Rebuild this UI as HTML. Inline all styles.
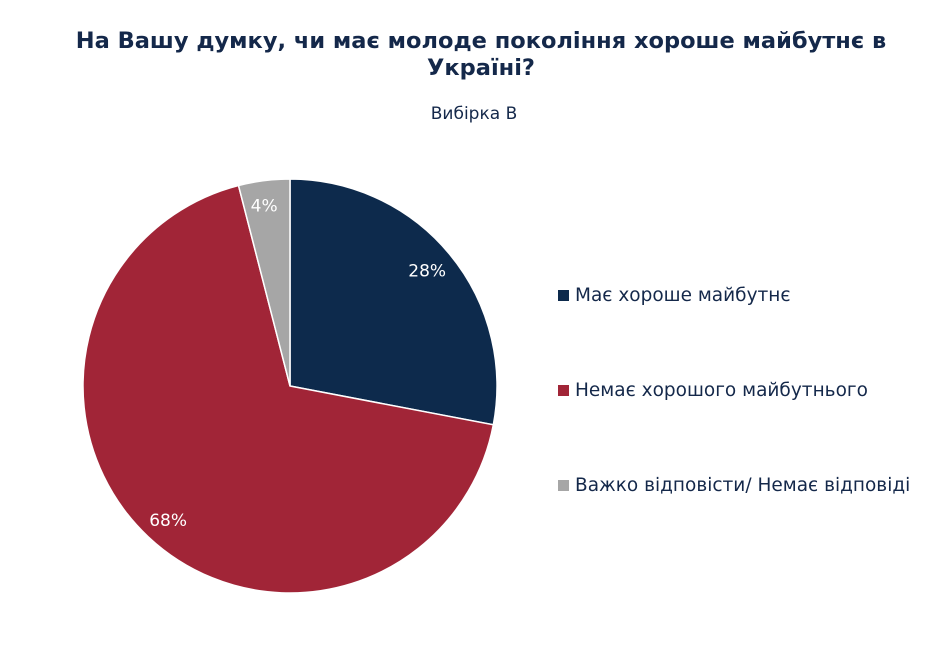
<!DOCTYPE html>
<html><head><meta charset="utf-8">
<style>
body{margin:0;background:#fff;width:948px;height:672px;overflow:hidden;font-family:"DejaVu Sans","Liberation Sans",sans-serif;}
.title{position:absolute;left:0;top:28px;width:962px;text-align:center;font-weight:bold;font-size:22.5px;line-height:27px;color:#14284a;}
.sub{position:absolute;left:0;top:104px;width:948px;text-align:center;font-size:17px;color:#14284a;}
.leg{position:absolute;left:558px;font-size:18.5px;color:#14284a;white-space:nowrap;}
.leg span.sw{display:inline-block;width:11px;height:11px;margin-right:6px;vertical-align:0px;}
</style></head><body>
<div class="title">На Вашу думку, чи має молоде покоління хороше майбутнє в<br>Україні?</div>
<div class="sub">Вибірка В</div>
<svg id="pie" width="948" height="672" style="position:absolute;left:0;top:0"></svg>
<div id="legend"></div>
<script>
const categories=["Має хороше майбутнє","Немає хорошого майбутнього","Важко відповісти/ Немає відповіді"];
const values=[28,68,4];
const labels=["28%","68%","4%"];
const colors=["#0d2a4c","#a12537","#a6a6a6"];
const svg=document.getElementById('pie');
const NS="http://www.w3.org/2000/svg";
const cx=290,cy=386,r=207;
const total=values.reduce((a,b)=>a+b,0);
let acc=0;
function pt(frac,rad){const a=frac*2*Math.PI;return [cx+rad*Math.sin(a),cy-rad*Math.cos(a)];}
values.forEach((v,i)=>{
  const s=acc/total,e=(acc+v)/total;acc+=v;
  const p0=pt(s,r),p1=pt(e,r);
  const large=(e-s)>0.5?1:0;
  const path=document.createElementNS(NS,'path');
  path.setAttribute('d',`M${cx},${cy} L${p0[0]},${p0[1]} A${r},${r} 0 ${large} 1 ${p1[0]},${p1[1]} Z`);
  path.setAttribute('fill',colors[i]);
  path.setAttribute('stroke','#fff');
  path.setAttribute('stroke-width','1.5');
  
  
  svg.appendChild(path);
  const m=(s+e)/2;
  const small=(e-s)<0.08;
  const lr=small?r*0.88:r*0.86;
  const lp=pt(m,lr);
  const t=document.createElementNS(NS,'text');
  t.setAttribute('x',lp[0]-(small?3:0));t.setAttribute('y',lp[1]+(small?6:(lp[1]>cy?10:4)));
  t.setAttribute('text-anchor','middle');
  t.setAttribute('font-size','17');
  t.setAttribute('fill','#fff');
  t.setAttribute('font-family','DejaVu Sans, sans-serif');
  t.textContent=labels[i];
  
  
  svg.appendChild(t);
});
const lg=document.getElementById('legend');
const tops=[285,380,475];
categories.forEach((c,i)=>{
  const d=document.createElement('div');
  d.className='leg';d.style.top=tops[i]+'px';
  d.innerHTML='<span class="sw" style="background:'+colors[i]+'"></span>'+c;
  
  
  lg.appendChild(d);
});
</script>
</body></html>
